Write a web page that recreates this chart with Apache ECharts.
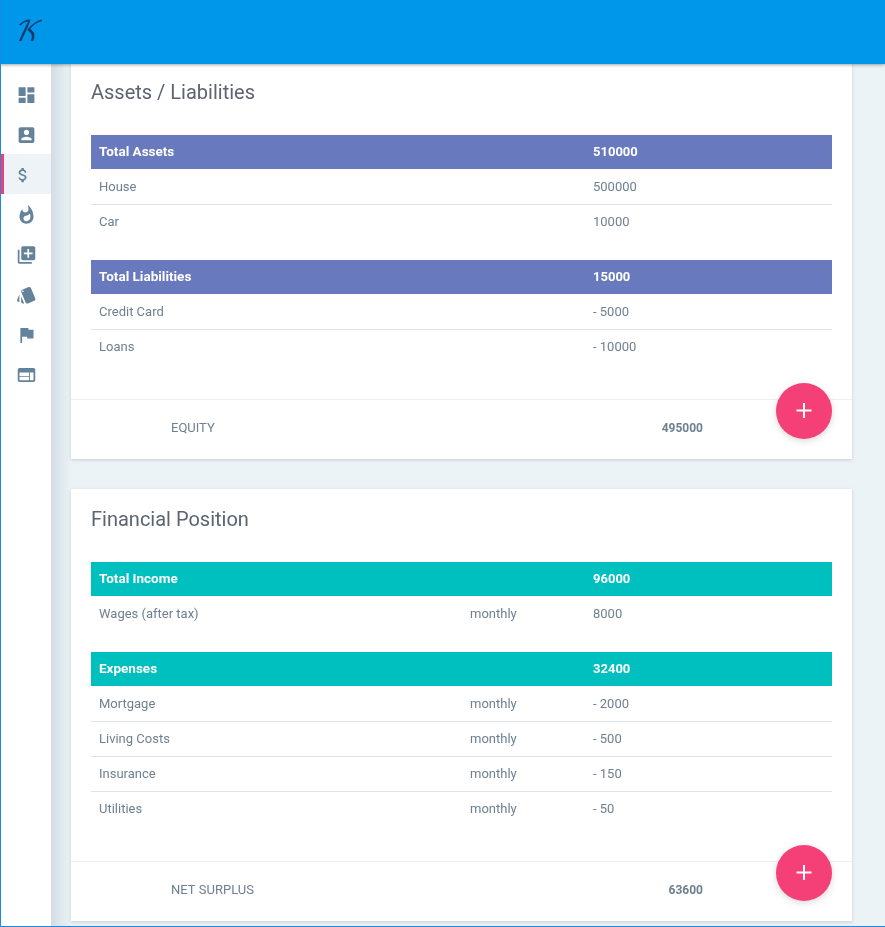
<!DOCTYPE html>
<html>
<head>
<meta charset="utf-8">
<title>Finances</title>
<style>
  html, body { margin: 0; padding: 0; background: #ebf3f7; }
  #main { width: 885px; height: 927px; }
</style>
<script src="https://cdn.jsdelivr.net/npm/echarts@6/dist/echarts.min.js"></script>
</head>
<body>
<div id="main"></div>
<script>
// table data
var assetNames = ['House', 'Car'];
var assetValues = [500000, 10000];
var liabilityNames = ['Credit Card', 'Loans'];
var liabilityValues = [-5000, -10000];
var incomeNames = ['Wages (after tax)'];
var incomePeriods = ['monthly'];
var incomeValues = [8000];
var expenseNames = ['Mortgage', 'Living Costs', 'Insurance', 'Utilities'];
var expensePeriods = ['monthly', 'monthly', 'monthly', 'monthly'];
var expenseValues = [-2000, -500, -150, -50];
var totalAssets = 510000;
var totalLiabilities = 15000;
var totalIncome = 96000;
var totalExpenses = 32400;
var equity = 495000;
var netSurplus = 63600;

// material icons for the side menu
var menuIcons = [
  'M3 13h8V3H3v10zm0 8h8v-6H3v6zm10 0h8V11h-8v10zm0-18v6h8V3h-8z',
  'M3 5v14c0 1.1.89 2 2 2h14c1.1 0 2-.9 2-2V5c0-1.1-.9-2-2-2H5c-1.11 0-2 .9-2 2zm12 4c0 1.66-1.34 3-3 3s-3-1.34-3-3 1.34-3 3-3 3 1.34 3 3zm-9 8c0-2 4-3.1 6-3.1s6 1.1 6 3.1v1H6v-1z',
  'M11.8 10.9c-2.27-.59-3-1.2-3-2.15 0-1.09 1.01-1.85 2.7-1.85 1.78 0 2.44.85 2.5 2.1h2.21c-.07-1.72-1.12-3.3-3.21-3.81V3h-3v2.16c-1.94.42-3.5 1.68-3.5 3.61 0 2.31 1.91 3.46 4.7 4.13 2.5.6 3 1.48 3 2.41 0 .69-.49 1.79-2.7 1.79-2.06 0-2.87-.92-2.98-2.1h-2.2c.12 2.19 1.76 3.42 3.68 3.83V21h3v-2.15c1.95-.37 3.5-1.5 3.5-3.55 0-2.84-2.43-3.81-4.7-4.4z',
  'M13.5.67s.74 2.65.74 4.8c0 2.06-1.35 3.73-3.41 3.73-2.07 0-3.63-1.67-3.63-3.73l.03-.36C5.21 7.51 4 10.62 4 14c0 4.42 3.58 8 8 8s8-3.58 8-8C20 8.61 17.41 3.8 13.5.67zM11.71 19c-1.78 0-3.22-1.4-3.22-3.14 0-1.62 1.05-2.76 2.81-3.12 1.77-.36 3.6-1.21 4.62-2.58.39 1.29.59 2.65.59 4.04 0 2.65-2.15 4.8-4.8 4.8z',
  'M4 6H2v14c0 1.1.9 2 2 2h14v-2H4V6zm16-4H8c-1.1 0-2 .9-2 2v12c0 1.1.9 2 2 2h12c1.1 0 2-.9 2-2V4c0-1.1-.9-2-2-2zm-1 9h-4v4h-2v-4H9V9h4V5h2v4h4v2z',
  'M2.53 19.65l1.34.56v-9.03l-2.43 5.86c-.41 1.02.08 2.19 1.09 2.61zm19.5-3.7L17.07 3.98c-.31-.75-1.04-1.21-1.81-1.23-.26 0-.53.04-.79.15L7.1 5.95c-.75.31-1.21 1.03-1.23 1.8-.01.27.04.54.15.8l4.96 11.97c.31.76 1.05 1.22 1.83 1.23.26 0 .52-.05.77-.15l7.36-3.05c1.02-.42 1.51-1.59 1.09-2.6zM7.88 8.75c-.55 0-1-.45-1-1s.45-1 1-1 1 .45 1 1-.45 1-1 1zm-2 11c0 1.1.9 2 2 2h1.45l-3.45-8.34v6.34z',
  'M14.4 6L14 4H5v17h2v-7h5.6l.4 2h7V6z',
  'M20 4H4c-1.1 0-1.99.9-1.99 2L2 18c0 1.1.9 2 2 2h16c1.1 0 2-.9 2-2V6c0-1.1-.9-2-2-2zm-5 14H4v-4h11v4zm0-5H4V9h11v4zm5 5h-4V9h4v9z'
];

var FONT = 'Roboto, sans-serif';
var els = [];

function rect(x, y, w, h, fill, extra) {
  var style = { fill: fill };
  for (var k in extra) style[k] = extra[k];
  els.push({ type: 'rect', silent: true, shape: { x: x, y: y, width: w, height: h }, style: style });
}
function text(x, y, str, size, color, weight, align) {
  els.push({
    type: 'text', silent: true, x: x, y: y,
    style: {
      text: str, fill: color, font: (weight || 'normal') + ' ' + size + 'px ' + FONT,
      textAlign: align || 'left', textVerticalAlign: 'middle'
    }
  });
}
function fmt(v) {
  return v < 0 ? '- ' + (-v) : '' + v;
}

// a coloured head row and its body rows, returns y under the last row
function block(y, color, head, total, names, periods, values) {
  rect(91, y, 741, 34, color);
  text(99, y + 18, head, 13.5, '#ffffff', 'bold');
  text(593, y + 18, '' + total, 13, '#ffffff', 'bold');
  y += 34;
  for (var i = 0; i < names.length; i++) {
    text(99, y + 18.5, names[i], 13, '#6f8090');
    if (periods) text(470, y + 18.5, periods[i], 13, '#6f8090');
    text(593, y + 18.5, fmt(values[i]), 13, '#6f8090');
    if (i < names.length - 1) rect(91, y + 35, 741, 1, '#dbe5ea');
    y += 35;
  }
  return y;
}
function fab(cy) {
  els.push({
    type: 'circle', silent: true, shape: { cx: 804, cy: cy, r: 28 },
    style: { fill: '#f43f77', shadowBlur: 6, shadowOffsetY: 2, shadowColor: 'rgba(0,0,0,0.15)' }
  });
  rect(796.5, cy - 1.5, 15, 2, '#ffffff');
  rect(803, cy - 8, 2, 15, '#ffffff');
}

// page background and sidebar shadow
rect(0, 0, 885, 927, '#ebf3f7');
rect(51, 64, 20, 863, new echarts.graphic.LinearGradient(0, 0, 1, 0, [
  { offset: 0, color: '#d3dde3' }, { offset: 1, color: '#ebf3f7' }
]));

// first card
rect(71, 60, 781, 399, '#ffffff', { shadowBlur: 3, shadowOffsetY: 1, shadowColor: 'rgba(0,0,0,0.15)' });
text(91, 94, 'Assets / Liabilities', 20, '#5b6470');
var y1 = block(135, '#6879bd', 'Total Assets', totalAssets, assetNames, null, assetValues);
block(y1 + 21, '#6879bd', 'Total Liabilities', totalLiabilities, liabilityNames, null, liabilityValues);
rect(71, 399, 781, 1, '#edf1f4');
text(171, 429, 'EQUITY', 13, '#6f8090');
text(703, 429, '' + equity, 12, '#6f8090', 'bold', 'right');
fab(411);

// second card
rect(71, 489, 781, 432, '#ffffff', { shadowBlur: 3, shadowOffsetY: 1, shadowColor: 'rgba(0,0,0,0.15)' });
text(91, 521, 'Financial Position', 20, '#5b6470');
var y2 = block(562, '#00bfbf', 'Total Income', totalIncome, incomeNames, incomePeriods, incomeValues);
block(y2 + 21, '#00bfbf', 'Expenses', totalExpenses, expenseNames, expensePeriods, expenseValues);
rect(71, 861, 781, 1, '#edf1f4');
text(171, 891, 'NET SURPLUS', 13, '#6f8090');
text(703, 891, '' + netSurplus, 12, '#6f8090', 'bold', 'right');
fab(873);

// sidebar
rect(0, 64, 51, 863, '#ffffff');
rect(1, 154, 50, 40, '#edf3f7');
rect(1, 154, 3, 40, '#ee3f77');
menuIcons.forEach(function (d, i) {
  // the graphic component has no plain path type, so each icon gets a shape class
  echarts.graphic.registerShape('menuIcon' + i, echarts.graphic.extendPath(d, {}));
  // the dollar sign sits smaller and further left than the other icons
  var size = i === 2 ? 19 : 21;
  var cx = i === 2 ? 23 : 26.5;
  els.push({
    type: 'menuIcon' + i, silent: true,
    x: cx - size / 2, y: 95 + i * 40 - size / 2, scaleX: size / 24, scaleY: size / 24,
    style: { fill: '#648299' }
  });
});

// top bar
rect(0, 0, 885, 64, '#0096ea', { shadowBlur: 3, shadowOffsetY: 1, shadowColor: 'rgba(0,0,0,0.35)' });
els.push({
  type: 'text', silent: true, x: 26, y: 33,
  style: { text: '\uD835\uDCA6', fill: '#0f3a6b', font: 'italic 28px "DejaVu Math TeX Gyre", "DejaVu Serif", serif', textAlign: 'center', textVerticalAlign: 'middle' }
});

// window border
rect(0, 0, 1, 927, '#1e88e5');
rect(0, 926, 885, 1, '#1e88e5');

var chart = echarts.init(document.getElementById('main'), null, { renderer: 'canvas' });
chart.setOption({ animation: false, graphic: { elements: els } });
</script>
</body>
</html>
